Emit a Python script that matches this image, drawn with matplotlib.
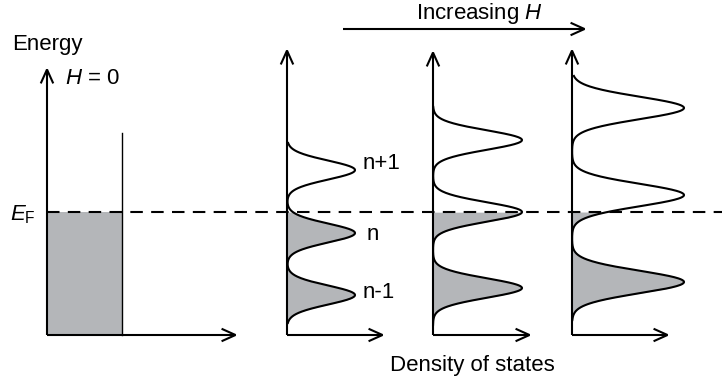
import numpy as np
import matplotlib
matplotlib.use("Agg")
import matplotlib.pyplot as plt
from matplotlib.patches import FancyArrowPatch

plt.rcParams['font.family'] = ['Liberation Sans', 'DejaVu Sans']
plt.rcParams['mathtext.fontset'] = 'custom'
plt.rcParams['mathtext.rm'] = 'Liberation Sans'
plt.rcParams['mathtext.it'] = 'Liberation Sans:italic'

# energies in units of the Fermi energy, DOS in drawing units
E_F = 1.0

# H = 0 : constant 2D density of states
dos0_x0 = 47
dos0_width = 75
dos0_top = 1.642

# Landau levels for three increasing fields
panel_x0 = [287, 433, 572]
panel_xend = [385, 532, 670]
panel_ytop = [2.333, 2.317, 2.333]
levels = [
    [0.325, 0.829, 1.341],
    [0.382, 1.000, 1.585],
    [0.431, 1.138, 1.846],
]
sigma = [0.077, 0.079, 0.091]
amp = [68, 89, 112]
e_lo = [0.098, 0.081, 0.122]
e_hi = [1.561, 1.854, 2.106]
level_labels = ['n-1', 'n', 'n+1']

fill_col = '#b4b6b9'
lw = 1.5


def arrow(ax, p0, p1, lw=lw):
    a = FancyArrowPatch(p0, p1, arrowstyle='->,head_length=1.0,head_width=0.45',
                        mutation_scale=10, lw=lw, color='black',
                        shrinkA=0, shrinkB=0, joinstyle='miter', capstyle='butt')
    ax.add_patch(a)


def E(ypix):
    return (335 - ypix) / 123.0


fig = plt.figure(figsize=(7.24, 3.86), dpi=100)
ax = fig.add_axes([0, 0, 1, 1])
ax.set_xlim(0, 724)
ax.set_ylim(E(386), E(0))
ax.axis('off')

# zero field panel
ax.fill_between([dos0_x0, dos0_x0 + dos0_width], 0, E_F, color=fill_col, lw=0)
ax.plot([dos0_x0 + dos0_width] * 2, [0, dos0_top], color='black', lw=1.0)
arrow(ax, (dos0_x0, 0), (dos0_x0, 2.179))
arrow(ax, (dos0_x0, 0), (238, 0))

# Landau level panels
for i in range(3):
    x0 = panel_x0[i]
    e = np.linspace(e_lo[i], e_hi[i], 600)
    g = np.zeros_like(e)
    for lev in levels[i]:
        g += amp[i] * np.exp(-(e - lev) ** 2 / (2 * sigma[i] ** 2))
    occ = e <= E_F
    ax.fill_betweenx(e[occ], x0, x0 + g[occ], color=fill_col, lw=0)
    ax.plot(x0 + g, e, color='black', lw=lw)
    arrow(ax, (x0, 0), (x0, panel_ytop[i]))
    arrow(ax, (x0, 0), (panel_xend[i], 0))

# level labels on the first field panel
for lab, lev in zip(level_labels, levels[0]):
    if lab == 'n':
        ax.text(373, lev - 0.015, lab, fontsize=16, ha='center', va='center')
    else:
        ax.text(363, lev + 0.055 if lab == 'n+1' else lev + 0.02, lab,
                fontsize=16, ha='left', va='center')

# Fermi level
ax.plot([dos0_x0, 722], [E_F, E_F], color='black', lw=1.5, dashes=(6, 4))

# field direction
arrow(ax, (343, E(29)), (587, E(29)))
ax.text(479, E(13), 'Increasing $H$', fontsize=16, ha='center', va='center')

ax.text(12, E(45), 'Energy', fontsize=16, ha='left', va='center')
ax.text(65, E(79), '$H$ = 0', fontsize=16, ha='left', va='center')
ax.text(10, E(215), r'$E_{\mathrm{F}}$', fontsize=16, ha='left', va='center')
ax.text(472, E(365), 'Density of states', fontsize=16, ha='center', va='center')

fig.savefig('out.png', dpi=100)
